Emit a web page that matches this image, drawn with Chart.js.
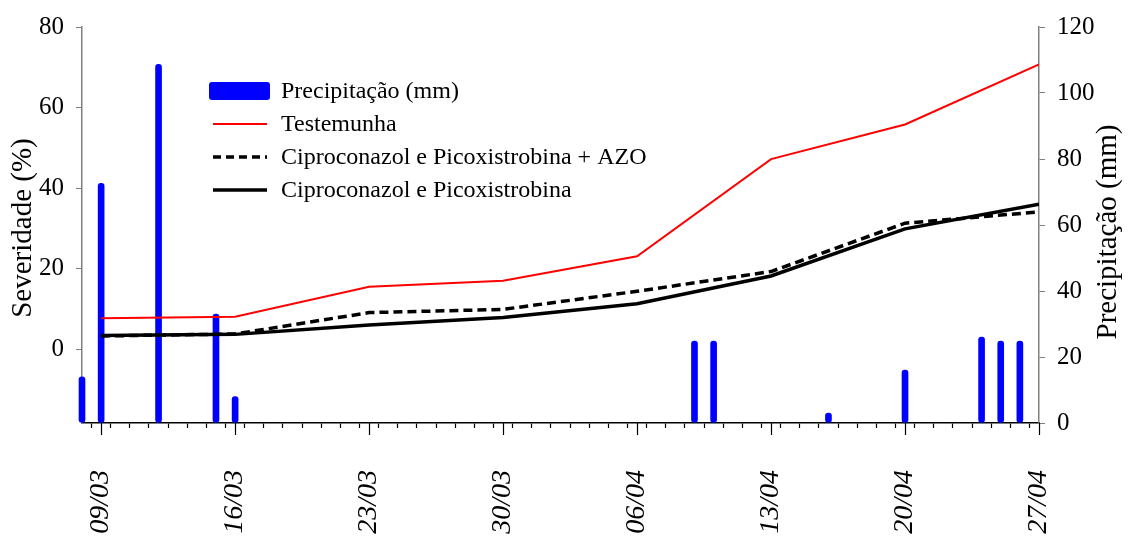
<!DOCTYPE html>
<html>
<head>
<meta charset="utf-8">
<script src="https://cdn.jsdelivr.net/npm/chart.js@4/dist/chart.umd.min.js"></script>
<style>
  html, body { margin: 0; padding: 0; background: #fff; }
</style>
</head>
<body>
<canvas id="chart" width="1129" height="539"></canvas>
<script>
// x axis runs from 08/03 (day 0) to 27/04 (day 50)
const startDate = '08/03';
const xTickLabels = ['09/03', '16/03', '23/03', '30/03', '06/04', '13/04', '20/04', '27/04'];

// severity (%) read at each weekly assessment
const evalDates = ['09/03', '16/03', '23/03', '30/03', '06/04', '13/04', '20/04', '27/04'];
const testemunha = [7.7, 8.1, 15.5, 17.0, 23.1, 47.2, 55.8, 70.7];
const comAzo = [3.3, 3.8, 9.1, 9.9, 14.4, 19.3, 31.3, 34.1];
const semAzo = [3.4, 3.7, 6.0, 7.9, 11.3, 18.2, 29.9, 36.0];

// daily rain (mm)
const rainDates = ['08/03', '09/03', '12/03', '15/03', '16/03', '09/04', '10/04', '16/04', '20/04', '24/04', '25/04', '26/04'];
const rainMm = [14, 72.6, 108.7, 33, 8, 24.8, 24.8, 3, 16, 26, 24.8, 24.8];

const severityTicks = [0, 20, 40, 60, 80];

const serif = '"Liberation Serif", "Times New Roman", serif';

function dayIndex(label) {
  const [d, m] = label.split('/').map(Number);
  const [d0, m0] = startDate.split('/').map(Number);
  return Math.round((Date.UTC(2000, m - 1, d) - Date.UTC(2000, m0 - 1, d0)) / 86400000);
}

const majorDays = xTickLabels.map(dayIndex);
const lastDay = majorDays[majorDays.length - 1];

function points(dates, values) {
  return dates.map((d, i) => ({ x: dayIndex(d), y: values[i] }));
}

// axis titles (both read bottom-to-top), legend and the longer weekly ticks
const extras = {
  id: 'extras',
  afterDraw(chart) {
    const c = chart.ctx;
    const area = chart.chartArea;
    const xs = chart.scales.x;
    c.save();

    c.strokeStyle = '#000';
    c.lineWidth = 1.2;
    majorDays.forEach(d => {
      const px = Math.round(xs.getPixelForValue(d)) + 0.5;
      c.beginPath();
      c.moveTo(px, area.bottom);
      c.lineTo(px, area.bottom + 12);
      c.stroke();
    });

    c.fillStyle = '#000';
    c.font = '29px ' + serif;
    c.textAlign = 'center';
    c.textBaseline = 'middle';
    [['Severidade (%)', 23, 228], ['Precipitação (mm)', 1108, 232]].forEach(([t, x, y]) => {
      c.save();
      c.translate(x, y);
      c.rotate(-Math.PI / 2);
      c.fillText(t, 0, 0);
      c.restore();
    });

    c.font = '24px ' + serif;
    c.textAlign = 'left';
    chart.data.datasets.forEach((ds, i) => {
      const y = 91 + i * 33;
      if (ds.type === 'bar') {
        c.fillStyle = ds.backgroundColor;
        c.beginPath();
        c.roundRect(209, y - 9, 61, 18, 3);
        c.fill();
      } else {
        c.strokeStyle = ds.borderColor;
        c.lineWidth = ds.borderWidth;
        c.setLineDash(ds.borderDash ? [8, 5] : []);
        c.beginPath();
        c.moveTo(213, y);
        c.lineTo(267, y);
        c.stroke();
        c.setLineDash([]);
      }
      c.fillStyle = '#000';
      c.fillText(ds.label, 281, y + 1);
    });
    c.restore();
  }
};

new Chart(document.getElementById('chart'), {
  type: 'line',
  data: {
    datasets: [
      {
        type: 'bar',
        label: 'Precipitação (mm)',
        data: points(rainDates, rainMm),
        yAxisID: 'y1',
        backgroundColor: '#0000ff',
        barThickness: 6,
        borderRadius: 3,
        borderSkipped: false,
        clip: false,
        order: 2
      },
      {
        label: 'Testemunha',
        data: points(evalDates, testemunha),
        yAxisID: 'y',
        borderColor: '#ff0000',
        borderWidth: 2,
        pointRadius: 0,
        order: 1
      },
      {
        label: 'Ciproconazol e Picoxistrobina + AZO',
        data: points(evalDates, comAzo),
        yAxisID: 'y',
        borderColor: '#000',
        borderWidth: 3.5,
        borderDash: [9, 5],
        pointRadius: 0,
        order: 1
      },
      {
        label: 'Ciproconazol e Picoxistrobina',
        data: points(evalDates, semAzo),
        yAxisID: 'y',
        borderColor: '#000',
        borderWidth: 3.5,
        pointRadius: 0,
        order: 1
      }
    ]
  },
  options: {
    responsive: false,
    animation: false,
    layout: { padding: { top: 23, left: 0, right: 0, bottom: 0 } },
    plugins: {
      legend: { display: false },
      tooltip: { enabled: false }
    },
    scales: {
      x: {
        type: 'linear',
        min: 0,
        max: lastDay,
        offset: false,
        afterBuildTicks: s => {
          s.ticks = [];
          for (let d = 0; d <= lastDay; d++) s.ticks.push({ value: d });
        },
        ticks: {
          autoSkip: false,
          minRotation: 90,
          maxRotation: 90,
          padding: 42,
          color: '#000',
          font: { family: serif, size: 28, style: 'italic' },
          callback: v => {
            const i = majorDays.indexOf(v);
            return i >= 0 ? xTickLabels[i] : '';
          }
        },
        grid: { drawOnChartArea: false, tickLength: 5, color: '#000', tickWidth: 1.2 },
        border: { color: '#000', width: 1.5 },
        afterFit: s => { s.height = 116; }
      },
      y: {
        position: 'left',
        min: -18.3,
        max: 80,
        afterBuildTicks: s => { s.ticks = severityTicks.map(v => ({ value: v })); },
        ticks: { color: '#000', padding: 12, font: { family: serif, size: 25 } },
        grid: { drawOnChartArea: false, tickLength: 6, color: '#808080' },
        border: { color: '#808080', width: 1.5 },
        afterFit: s => { s.width = 82; }
      },
      y1: {
        position: 'right',
        min: 0,
        max: 120,
        ticks: { stepSize: 20, color: '#000', padding: 12, font: { family: serif, size: 25 } },
        grid: { drawOnChartArea: false, tickLength: 6, color: '#808080' },
        border: { color: '#808080', width: 1.5 },
        afterFit: s => { s.width = 90; }
      }
    }
  },
  plugins: [extras]
});
</script>
</body>
</html>
